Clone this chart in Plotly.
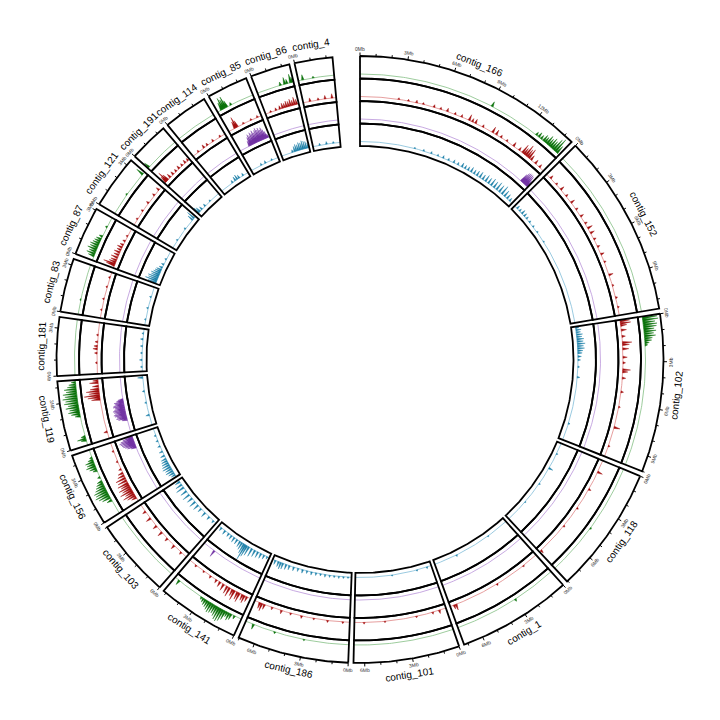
import numpy as np
import plotly.graph_objects as go

# ---------------- data ----------------
contigs = ["contig_166", "contig_152", "contig_102", "contig_118", "contig_1",
           "contig_101", "contig_186", "contig_141", "contig_103", "contig_156",
           "contig_119", "contig_181", "contig_83", "contig_87", "contig_121",
           "contig_191", "contig_114", "contig_85", "contig_86", "contig_4"]
lengths_mb = [14.6, 11.6, 10.0, 8.05, 7.25, 6.7, 7.05, 5.2, 5.0, 4.65,
              4.4, 3.7, 3.4, 3.1, 3.4, 2.5, 2.8, 2.6, 2.5, 2.4]

green_peaks = [
    ("contig_166", 9.1, 0.3), ("contig_166", 12.6, 0.2), ("contig_166", 12.8, 0.3), ("contig_166", 13.0, 0.25),
    ("contig_166", 13.2, 0.4), ("contig_166", 13.35, 0.35), ("contig_166", 13.5, 0.55), ("contig_166", 13.65, 0.45),
    ("contig_166", 13.8, 0.6), ("contig_166", 13.95, 0.5), ("contig_166", 14.1, 0.75), ("contig_166", 14.25, 0.9),
    ("contig_166", 14.4, 0.5),
    ("contig_102", 0.1, 0.85), ("contig_102", 0.25, 0.9), ("contig_102", 0.4, 0.7), ("contig_102", 0.55, 0.8),
    ("contig_102", 0.7, 0.75), ("contig_102", 0.85, 0.6), ("contig_102", 1.0, 0.7), ("contig_102", 1.15, 0.55),
    ("contig_102", 1.3, 0.65), ("contig_102", 1.45, 0.45), ("contig_102", 1.6, 0.4), ("contig_102", 1.75, 0.25),
    ("contig_102", 1.9, 0.15),
    ("contig_118", 4.5, 0.08), ("contig_1", 3.0, 0.15),
    ("contig_186", 3.0, 0.08), ("contig_186", 5.0, 0.1), ("contig_186", 6.5, 0.3),
    ("contig_141", 0.5, 0.2), ("contig_141", 0.75, 0.35), ("contig_141", 0.9, 0.45), ("contig_141", 1.05, 0.3),
    ("contig_141", 1.2, 0.55), ("contig_141", 1.35, 0.7), ("contig_141", 1.5, 0.8), ("contig_141", 1.65, 0.75),
    ("contig_141", 1.8, 0.6), ("contig_141", 1.95, 0.5), ("contig_141", 2.1, 0.55), ("contig_141", 2.25, 0.6),
    ("contig_141", 2.4, 0.5), ("contig_141", 2.55, 0.4), ("contig_141", 2.7, 0.35), ("contig_141", 2.85, 0.25),
    ("contig_141", 3.0, 0.15), ("contig_141", 4.85, 0.3),
    ("contig_156", 1.0, 0.3), ("contig_156", 1.2, 0.5), ("contig_156", 1.35, 0.65), ("contig_156", 1.5, 0.8),
    ("contig_156", 1.65, 0.7), ("contig_156", 1.8, 0.75), ("contig_156", 1.95, 0.6), ("contig_156", 2.1, 0.5),
    ("contig_156", 2.25, 0.4), ("contig_156", 2.4, 0.3), ("contig_156", 2.7, 0.15), ("contig_156", 3.2, 0.25),
    ("contig_156", 3.35, 0.4), ("contig_156", 3.5, 0.55), ("contig_156", 3.65, 0.45), ("contig_156", 3.8, 0.5),
    ("contig_156", 3.95, 0.3), ("contig_156", 4.1, 0.15),
    ("contig_119", 0.35, 0.3), ("contig_119", 0.45, 0.5), ("contig_119", 0.6, 0.25),
    ("contig_119", 2.0, 0.3), ("contig_119", 2.15, 0.5), ("contig_119", 2.3, 0.65), ("contig_119", 2.45, 0.55),
    ("contig_119", 2.6, 0.75), ("contig_119", 2.75, 0.6), ("contig_119", 2.9, 0.8), ("contig_119", 3.05, 0.7),
    ("contig_119", 3.2, 0.85), ("contig_119", 3.35, 0.7), ("contig_119", 3.5, 0.8), ("contig_119", 3.65, 0.6),
    ("contig_119", 3.8, 0.7), ("contig_119", 3.95, 0.5), ("contig_119", 4.1, 0.4), ("contig_119", 4.25, 0.25),
    ("contig_83", 1.0, 0.06),
    ("contig_87", 0.3, 0.35), ("contig_87", 0.45, 0.5), ("contig_87", 0.6, 0.4), ("contig_87", 0.75, 0.55),
    ("contig_87", 0.9, 0.45), ("contig_87", 1.05, 0.5), ("contig_87", 1.2, 0.4), ("contig_87", 1.35, 0.35),
    ("contig_87", 1.5, 0.3), ("contig_87", 1.7, 0.2), ("contig_87", 2.4, 0.1),
    ("contig_121", 1.5, 0.08), ("contig_121", 3.2, 0.45),
    ("contig_191", 0.1, 0.35),
    ("contig_85", 0.3, 0.45), ("contig_85", 0.4, 0.7), ("contig_85", 0.5, 0.55), ("contig_85", 0.6, 0.7),
    ("contig_85", 0.7, 0.4), ("contig_85", 1.0, 0.15),
    ("contig_86", 1.6, 0.2), ("contig_86", 1.9, 0.4), ("contig_86", 2.05, 0.25), ("contig_86", 2.3, 0.5),
    ("contig_86", 2.4, 0.3),
    ("contig_4", 0.3, 0.3), ("contig_4", 1.0, 0.1),
]

red_peaks = [
    ("contig_166", 2.8, 0.1), ("contig_166", 3.5, 0.1), ("contig_166", 4.1, 0.15), ("contig_166", 4.6, 0.1),
    ("contig_166", 5.4, 0.15), ("contig_166", 5.9, 0.12), ("contig_166", 6.4, 0.2), ("contig_166", 7.0, 0.12),
    ("contig_166", 7.5, 0.15), ("contig_166", 8.1, 0.35), ("contig_166", 8.35, 0.2), ("contig_166", 8.6, 0.25),
    ("contig_166", 9.2, 0.15), ("contig_166", 10.0, 0.35), ("contig_166", 10.3, 0.3), ("contig_166", 10.7, 0.15),
    ("contig_166", 11.2, 0.12), ("contig_166", 11.8, 0.25), ("contig_166", 12.3, 0.2), ("contig_166", 12.6, 0.55),
    ("contig_166", 12.75, 0.4), ("contig_166", 12.9, 0.7), ("contig_166", 13.05, 0.5), ("contig_166", 13.2, 0.6),
    ("contig_166", 13.4, 0.3), ("contig_166", 13.8, 0.25), ("contig_166", 14.2, 0.2),
    ("contig_152", 0.4, 0.2), ("contig_152", 1.0, 0.12), ("contig_152", 1.5, 0.25), ("contig_152", 2.1, 0.15),
    ("contig_152", 2.7, 0.25), ("contig_152", 3.3, 0.15), ("contig_152", 3.9, 0.2), ("contig_152", 4.5, 0.15),
    ("contig_152", 4.9, 0.3), ("contig_152", 5.3, 0.25), ("contig_152", 5.8, 0.15), ("contig_152", 6.4, 0.15),
    ("contig_152", 7.0, 0.2), ("contig_152", 7.6, 0.12), ("contig_152", 8.6, 0.25), ("contig_152", 9.4, 0.1),
    ("contig_152", 10.3, 0.12), ("contig_152", 11.0, 0.1),
    ("contig_102", 0.1, 0.55), ("contig_102", 0.25, 0.6), ("contig_102", 0.4, 0.35), ("contig_102", 0.75, 0.3),
    ("contig_102", 1.2, 0.2), ("contig_102", 1.65, 0.55), ("contig_102", 1.8, 0.4), ("contig_102", 2.1, 0.35),
    ("contig_102", 2.7, 0.25), ("contig_102", 3.1, 0.15), ("contig_102", 3.6, 0.45), ("contig_102", 3.75, 0.3),
    ("contig_102", 4.2, 0.2), ("contig_102", 5.2, 0.15), ("contig_102", 6.3, 0.1), ("contig_102", 7.8, 0.35),
    ("contig_102", 9.2, 0.1),
    ("contig_118", 0.9, 0.3), ("contig_118", 2.3, 0.15), ("contig_118", 3.9, 0.1), ("contig_118", 5.5, 0.1),
    ("contig_118", 7.9, 0.2),
    ("contig_1", 1.2, 0.08), ("contig_1", 3.5, 0.1), ("contig_1", 6.8, 0.35), ("contig_1", 6.95, 0.25),
    ("contig_101", 0.5, 0.2), ("contig_101", 1.0, 0.12), ("contig_101", 2.2, 0.08), ("contig_101", 4.5, 0.08),
    ("contig_101", 6.0, 0.1),
    ("contig_186", 0.5, 0.1), ("contig_186", 1.6, 0.12), ("contig_186", 2.6, 0.1), ("contig_186", 3.5, 0.15),
    ("contig_186", 4.3, 0.12), ("contig_186", 5.0, 0.2), ("contig_186", 5.7, 0.15), ("contig_186", 6.3, 0.3),
    ("contig_186", 6.5, 0.45), ("contig_186", 6.65, 0.35),
    ("contig_141", 0.3, 0.3), ("contig_141", 0.5, 0.45), ("contig_141", 0.65, 0.35), ("contig_141", 0.9, 0.55),
    ("contig_141", 1.05, 0.45), ("contig_141", 1.3, 0.6), ("contig_141", 1.45, 0.4), ("contig_141", 1.7, 0.55),
    ("contig_141", 1.9, 0.45), ("contig_141", 2.2, 0.4), ("contig_141", 2.5, 0.3), ("contig_141", 2.8, 0.2),
    ("contig_141", 3.3, 0.15), ("contig_141", 3.9, 0.1), ("contig_141", 4.6, 0.12),
    ("contig_103", 0.5, 0.15), ("contig_103", 1.2, 0.25), ("contig_103", 1.9, 0.2), ("contig_103", 2.5, 0.3),
    ("contig_103", 3.1, 0.25), ("contig_103", 3.8, 0.3), ("contig_103", 4.4, 0.2),
    ("contig_156", 0.3, 0.3), ("contig_156", 0.45, 0.5), ("contig_156", 0.6, 0.7), ("contig_156", 0.75, 0.5),
    ("contig_156", 0.9, 0.75), ("contig_156", 1.05, 0.55), ("contig_156", 1.2, 0.7), ("contig_156", 1.35, 0.5),
    ("contig_156", 1.5, 0.65), ("contig_156", 1.7, 0.55), ("contig_156", 1.9, 0.6), ("contig_156", 2.1, 0.4),
    ("contig_156", 2.3, 0.3), ("contig_156", 2.6, 0.15), ("contig_156", 3.2, 0.1), ("contig_156", 4.0, 0.1),
    ("contig_119", 0.5, 0.2), ("contig_119", 2.9, 0.5), ("contig_119", 3.05, 0.7), ("contig_119", 3.2, 0.9),
    ("contig_119", 3.35, 0.6), ("contig_119", 3.5, 0.75), ("contig_119", 3.65, 0.5), ("contig_119", 3.85, 0.35),
    ("contig_119", 4.1, 0.5), ("contig_119", 4.25, 0.3),
    ("contig_181", 0.8, 0.1), ("contig_181", 1.5, 0.15), ("contig_181", 1.8, 0.25), ("contig_181", 2.0, 0.2),
    ("contig_181", 2.3, 0.15), ("contig_181", 2.8, 0.1),
    ("contig_83", 0.6, 0.08), ("contig_83", 1.4, 0.1), ("contig_83", 2.3, 0.08), ("contig_83", 3.0, 0.1),
    ("contig_87", 0.2, 0.5), ("contig_87", 0.3, 0.7), ("contig_87", 0.45, 0.4), ("contig_87", 0.6, 0.35),
    ("contig_87", 0.8, 0.4), ("contig_87", 1.0, 0.3), ("contig_87", 1.2, 0.35), ("contig_87", 1.4, 0.25),
    ("contig_87", 1.6, 0.3), ("contig_87", 1.8, 0.2), ("contig_87", 2.1, 0.15), ("contig_87", 2.5, 0.1),
    ("contig_121", 0.5, 0.1), ("contig_121", 1.2, 0.12), ("contig_121", 1.9, 0.15), ("contig_121", 2.6, 0.15),
    ("contig_121", 3.1, 0.2),
    ("contig_191", 0.15, 0.4), ("contig_191", 0.25, 0.65), ("contig_191", 0.35, 0.4), ("contig_191", 0.6, 0.25),
    ("contig_191", 0.9, 0.2), ("contig_191", 1.2, 0.15), ("contig_191", 1.5, 0.2), ("contig_191", 1.8, 0.15),
    ("contig_191", 2.1, 0.2), ("contig_191", 2.35, 0.15),
    ("contig_114", 0.5, 0.12), ("contig_114", 1.0, 0.2), ("contig_114", 1.3, 0.15), ("contig_114", 1.8, 0.15),
    ("contig_114", 2.4, 0.12),
    ("contig_85", 0.5, 0.4), ("contig_85", 0.6, 0.65), ("contig_85", 0.7, 0.4), ("contig_85", 1.2, 0.1),
    ("contig_85", 1.8, 0.1), ("contig_85", 2.3, 0.12),
    ("contig_86", 0.4, 0.1), ("contig_86", 0.8, 0.15), ("contig_86", 1.1, 0.2), ("contig_86", 1.3, 0.3),
    ("contig_86", 1.45, 0.25), ("contig_86", 1.6, 0.35), ("contig_86", 1.75, 0.3), ("contig_86", 1.9, 0.4),
    ("contig_86", 2.05, 0.3), ("contig_86", 2.2, 0.45), ("contig_86", 2.35, 0.3),
    ("contig_4", 0.5, 0.2), ("contig_4", 1.1, 0.12), ("contig_4", 1.6, 0.2), ("contig_4", 2.1, 0.25),
]

purple_peaks = [
    ("contig_166", 13.9, 0.5), ("contig_166", 14.0, 0.65), ("contig_166", 14.1, 0.7), ("contig_166", 14.2, 0.7),
    ("contig_166", 14.3, 0.7), ("contig_166", 14.4, 0.65), ("contig_166", 14.5, 0.4),
    ("contig_141", 4.2, 0.4),
    ("contig_156", 3.7, 0.3), ("contig_156", 3.8, 0.5), ("contig_156", 3.9, 0.6), ("contig_156", 4.0, 0.7),
    ("contig_156", 4.1, 0.75), ("contig_156", 4.2, 0.8), ("contig_156", 4.3, 0.85), ("contig_156", 4.4, 0.75),
    ("contig_156", 4.5, 0.6), ("contig_156", 4.6, 0.4),
    ("contig_119", 1.0, 0.3), ("contig_119", 1.1, 0.5), ("contig_119", 1.2, 0.6), ("contig_119", 1.3, 0.55),
    ("contig_119", 1.4, 0.65), ("contig_119", 1.5, 0.7), ("contig_119", 1.6, 0.6), ("contig_119", 1.7, 0.65),
    ("contig_119", 1.8, 0.7), ("contig_119", 1.9, 0.6), ("contig_119", 2.0, 0.55), ("contig_119", 2.1, 0.65),
    ("contig_119", 2.2, 0.6), ("contig_119", 2.3, 0.5), ("contig_119", 2.4, 0.55), ("contig_119", 2.5, 0.4),
    ("contig_119", 2.6, 0.3),
    ("contig_85", 0.85, 0.3), ("contig_85", 0.95, 0.5), ("contig_85", 1.05, 0.65), ("contig_85", 1.15, 0.55),
    ("contig_85", 1.25, 0.7), ("contig_85", 1.35, 0.6), ("contig_85", 1.45, 0.75), ("contig_85", 1.55, 0.6),
    ("contig_85", 1.65, 0.7), ("contig_85", 1.75, 0.8), ("contig_85", 1.85, 0.65), ("contig_85", 1.95, 0.75),
    ("contig_85", 2.05, 0.6), ("contig_85", 2.15, 0.7), ("contig_85", 2.25, 0.55), ("contig_85", 2.35, 0.4),
    ("contig_85", 2.45, 0.2),
]

blue_peaks = [
    ("contig_166", 4.8, 0.08), ("contig_166", 5.6, 0.1), ("contig_166", 6.3, 0.12), ("contig_166", 6.9, 0.1),
    ("contig_166", 7.4, 0.15), ("contig_166", 7.9, 0.12), ("contig_166", 8.4, 0.18), ("contig_166", 8.8, 0.15),
    ("contig_166", 9.2, 0.25), ("contig_166", 9.5, 0.2), ("contig_166", 9.8, 0.22), ("contig_166", 10.1, 0.3),
    ("contig_166", 10.4, 0.25), ("contig_166", 10.7, 0.3), ("contig_166", 11.0, 0.35), ("contig_166", 11.3, 0.3),
    ("contig_166", 11.6, 0.4), ("contig_166", 11.9, 0.35), ("contig_166", 12.2, 0.45), ("contig_166", 12.5, 0.4),
    ("contig_166", 12.8, 0.5), ("contig_166", 13.1, 0.45), ("contig_166", 13.4, 0.55), ("contig_166", 13.7, 0.4),
    ("contig_166", 14.0, 0.3), ("contig_166", 14.3, 0.2),
    ("contig_152", 0.3, 0.2), ("contig_152", 0.6, 0.15), ("contig_152", 0.9, 0.25), ("contig_152", 1.2, 0.2),
    ("contig_152", 1.5, 0.15), ("contig_152", 1.9, 0.12), ("contig_152", 2.4, 0.1), ("contig_152", 3.0, 0.08),
    ("contig_152", 4.0, 0.06),
    ("contig_102", 0.1, 0.2), ("contig_102", 0.3, 0.3), ("contig_102", 0.5, 0.25), ("contig_102", 0.7, 0.35),
    ("contig_102", 0.9, 0.3), ("contig_102", 1.1, 0.4), ("contig_102", 1.3, 0.35), ("contig_102", 1.5, 0.45),
    ("contig_102", 1.7, 0.35), ("contig_102", 1.9, 0.4), ("contig_102", 2.1, 0.3), ("contig_102", 2.3, 0.25),
    ("contig_102", 2.6, 0.2), ("contig_102", 2.9, 0.15), ("contig_102", 3.5, 0.1), ("contig_102", 4.4, 0.15),
    ("contig_102", 8.5, 0.1),
    ("contig_118", 1.0, 0.08), ("contig_118", 2.4, 0.25), ("contig_118", 4.0, 0.08), ("contig_118", 6.0, 0.06),
    ("contig_1", 2.0, 0.06), ("contig_1", 5.2, 0.1),
    ("contig_101", 0.4, 0.1), ("contig_101", 1.3, 0.08), ("contig_101", 3.5, 0.06),
    ("contig_186", 0.3, 0.08), ("contig_186", 0.7, 0.1), ("contig_186", 1.1, 0.12), ("contig_186", 1.5, 0.1),
    ("contig_186", 1.9, 0.12), ("contig_186", 2.3, 0.15), ("contig_186", 2.7, 0.12), ("contig_186", 3.1, 0.15),
    ("contig_186", 3.5, 0.18), ("contig_186", 3.9, 0.15), ("contig_186", 4.3, 0.2), ("contig_186", 4.7, 0.18),
    ("contig_186", 5.1, 0.22), ("contig_186", 5.5, 0.25), ("contig_186", 5.8, 0.3), ("contig_186", 6.1, 0.35),
    ("contig_186", 6.3, 0.4), ("contig_186", 6.5, 0.3), ("contig_186", 6.8, 0.25),
    ("contig_141", 0.2, 0.15), ("contig_141", 0.5, 0.25), ("contig_141", 0.8, 0.3), ("contig_141", 1.1, 0.35),
    ("contig_141", 1.4, 0.4), ("contig_141", 1.7, 0.5), ("contig_141", 2.0, 0.55), ("contig_141", 2.2, 0.7),
    ("contig_141", 2.35, 0.95), ("contig_141", 2.5, 0.6), ("contig_141", 2.7, 0.45), ("contig_141", 2.9, 0.35),
    ("contig_141", 3.2, 0.3), ("contig_141", 3.5, 0.3), ("contig_141", 3.8, 0.25), ("contig_141", 4.1, 0.2),
    ("contig_141", 4.5, 0.25), ("contig_141", 4.9, 0.2),
    ("contig_103", 0.3, 0.15), ("contig_103", 0.8, 0.2), ("contig_103", 1.3, 0.3), ("contig_103", 1.8, 0.25),
    ("contig_103", 2.2, 0.35), ("contig_103", 2.6, 0.4), ("contig_103", 3.0, 0.35), ("contig_103", 3.4, 0.45),
    ("contig_103", 3.8, 0.4), ("contig_103", 4.2, 0.5), ("contig_103", 4.5, 0.4), ("contig_103", 4.8, 0.3),
    ("contig_156", 0.2, 0.25), ("contig_156", 0.4, 0.35), ("contig_156", 0.6, 0.45), ("contig_156", 0.8, 0.4),
    ("contig_156", 1.0, 0.5), ("contig_156", 1.2, 0.45), ("contig_156", 1.4, 0.4), ("contig_156", 1.6, 0.35),
    ("contig_156", 1.8, 0.3), ("contig_156", 2.1, 0.25), ("contig_156", 2.5, 0.2), ("contig_156", 3.0, 0.15),
    ("contig_156", 3.5, 0.12), ("contig_156", 4.0, 0.1),
    ("contig_119", 0.9, 0.2), ("contig_119", 2.0, 0.1), ("contig_119", 3.0, 0.12), ("contig_119", 4.2, 0.3),
    ("contig_181", 0.4, 0.1), ("contig_181", 1.0, 0.15), ("contig_181", 1.6, 0.1), ("contig_181", 2.2, 0.12),
    ("contig_181", 2.8, 0.15), ("contig_181", 3.3, 0.1),
    ("contig_83", 0.5, 0.08), ("contig_83", 1.5, 0.1), ("contig_83", 2.5, 0.1),
    ("contig_87", 0.1, 0.5), ("contig_87", 0.25, 0.7), ("contig_87", 0.4, 0.55), ("contig_87", 0.55, 0.6),
    ("contig_87", 0.7, 0.45), ("contig_87", 0.85, 0.5), ("contig_87", 1.0, 0.4), ("contig_87", 1.15, 0.35),
    ("contig_87", 1.3, 0.3), ("contig_87", 1.5, 0.2), ("contig_87", 1.8, 0.15), ("contig_87", 2.3, 0.1),
    ("contig_121", 0.8, 0.08), ("contig_121", 2.0, 0.1), ("contig_121", 3.0, 0.35), ("contig_121", 3.2, 0.5),
    ("contig_191", 0.1, 0.4), ("contig_191", 0.25, 0.3), ("contig_191", 0.5, 0.2), ("contig_191", 0.9, 0.15),
    ("contig_191", 1.5, 0.1),
    ("contig_114", 1.2, 0.15), ("contig_114", 1.5, 0.25), ("contig_114", 1.7, 0.3), ("contig_114", 1.9, 0.2),
    ("contig_114", 2.3, 0.15),
    ("contig_85", 1.0, 0.12), ("contig_85", 1.4, 0.15), ("contig_85", 2.0, 0.1),
    ("contig_86", 1.0, 0.15), ("contig_86", 1.2, 0.3), ("contig_86", 1.35, 0.4), ("contig_86", 1.5, 0.35),
    ("contig_86", 1.65, 0.45), ("contig_86", 1.8, 0.4), ("contig_86", 1.95, 0.5), ("contig_86", 2.1, 0.45),
    ("contig_86", 2.25, 0.4), ("contig_86", 2.4, 0.3),
    ("contig_4", 0.6, 0.12), ("contig_4", 1.2, 0.15), ("contig_4", 1.8, 0.1),
]

major_tick_mb = 3
minor_tick_mb = 1

# ---------------- layout of the circle ----------------
TOP_GAP = 5.2
GAP = 1.0
R_OUT = 303.5
TRACK_H = 22.5
BASE_OFF = 4.5
HALF_W = 0.08

deg_per_mb = (360.0 - TOP_GAP - GAP * (len(contigs) - 1)) / sum(lengths_mb)
start_deg = {}
length_of = {}
a = 0.0
for name, L in zip(contigs, lengths_mb):
    start_deg[name] = a
    length_of[name] = L
    a += L * deg_per_mb + GAP


def ang(name, pos):
    return start_deg[name] + pos * deg_per_mb


def pol(r, th):
    t = np.radians(th)
    return r * np.sin(t), r * np.cos(t)


def arc(r, a0, a1):
    n = max(2, int(abs(a1 - a0) / 0.4) + 2)
    th = np.linspace(a0, a1, n)
    return pol(r, th)


tracks = [
    ("green", green_peaks, "#0b720b", "#84bf84"),
    ("red", red_peaks, "#a30f0f", "#e08585"),
    ("purple", purple_peaks, "#7232a3", "#b993d9"),
    ("blue", blue_peaks, "#1f80a8", "#80bcd8"),
]

fig = go.Figure()

# baselines and spikes
for ti, (tname, peaks, fill_col, line_col) in enumerate(tracks):
    r_top = R_OUT - ti * TRACK_H
    r_in = r_top - TRACK_H
    r_base = r_in + BASE_OFF
    bx, by = [], []
    for name in contigs:
        x, y = arc(r_base, ang(name, 0), ang(name, length_of[name]))
        bx += list(x) + [None]
        by += list(y) + [None]
    fig.add_trace(go.Scatter(x=bx, y=by, mode="lines", line=dict(color=line_col, width=0.8),
                             hoverinfo="skip", showlegend=False))
    px, py = [], []
    for name, pos, h in peaks:
        L = length_of[name]
        p0 = max(0.0, pos - HALF_W)
        p1 = min(L, pos + HALF_W)
        rp = r_base + h * (r_top - 0.8 - r_base)
        pts = [(r_base, ang(name, p0)), (rp, ang(name, pos)), (r_base, ang(name, p1)), (r_base, ang(name, p0))]
        for rr, th in pts:
            x, y = pol(rr, th)
            px.append(x)
            py.append(y)
        px.append(None)
        py.append(None)
    fig.add_trace(go.Scatter(x=px, y=py, mode="lines", fill="toself", fillcolor=fill_col,
                             line=dict(color=fill_col, width=0.4), hoverinfo="skip", showlegend=False))

# boxes
ox, oy = [], []
for name in contigs:
    a0, a1 = ang(name, 0), ang(name, length_of[name])
    for ti in range(4):
        r_top = R_OUT - ti * TRACK_H
        r_in = r_top - TRACK_H
        x1, y1 = arc(r_top, a0, a1)
        x2, y2 = arc(r_in, a1, a0)
        xs = list(x1) + list(x2) + [x1[0]]
        ys = list(y1) + list(y2) + [y1[0]]
        ox += xs + [None]
        oy += ys + [None]
fig.add_trace(go.Scatter(x=ox, y=oy, mode="lines", line=dict(color="black", width=1.8),
                         hoverinfo="skip", showlegend=False))

# ticks
tx, ty = [], []
annotations = []
for name in contigs:
    L = length_of[name]
    k = 0
    while k <= L + 1e-9:
        th = ang(name, k)
        tl = 3.5 if k % major_tick_mb == 0 else 2.5
        x0, y0 = pol(R_OUT, th)
        x1, y1 = pol(R_OUT + tl, th)
        tx += [x0, x1, None]
        ty += [y0, y1, None]
        if k % major_tick_mb == 0:
            xl, yl = pol(R_OUT + 7.0, th)
            rot = th if np.cos(np.radians(th)) > 0 else th - 180
            annotations.append(dict(x=xl, y=yl, xref="x", yref="y", text=f"{k}Mb", showarrow=False,
                                    textangle=rot, font=dict(size=5, color="#333333",
                                                             family="Liberation Sans, Arial, sans-serif"),
                                    xanchor="center", yanchor="middle"))
        k += minor_tick_mb
fig.add_trace(go.Scatter(x=tx, y=ty, mode="lines", line=dict(color="black", width=1),
                         hoverinfo="skip", showlegend=False))

# contig labels
for name in contigs:
    th = ang(name, length_of[name] / 2)
    xl, yl = pol(R_OUT + 15, th)
    rot = th if np.cos(np.radians(th)) > 0 else th - 180
    annotations.append(dict(x=xl, y=yl, xref="x", yref="y", text=name, showarrow=False,
                            textangle=rot, font=dict(size=10, color="black",
                                                     family="Liberation Sans, Arial, sans-serif"),
                            xanchor="center", yanchor="middle"))

fig.update_layout(
    width=720, height=720,
    margin=dict(l=0, r=0, t=0, b=0),
    paper_bgcolor="white", plot_bgcolor="white",
    xaxis=dict(range=[-360, 360], visible=False, fixedrange=True),
    yaxis=dict(range=[-360.5, 359.5], visible=False, fixedrange=True),
    annotations=annotations,
    showlegend=False,
)

fig.write_html("out.html")
